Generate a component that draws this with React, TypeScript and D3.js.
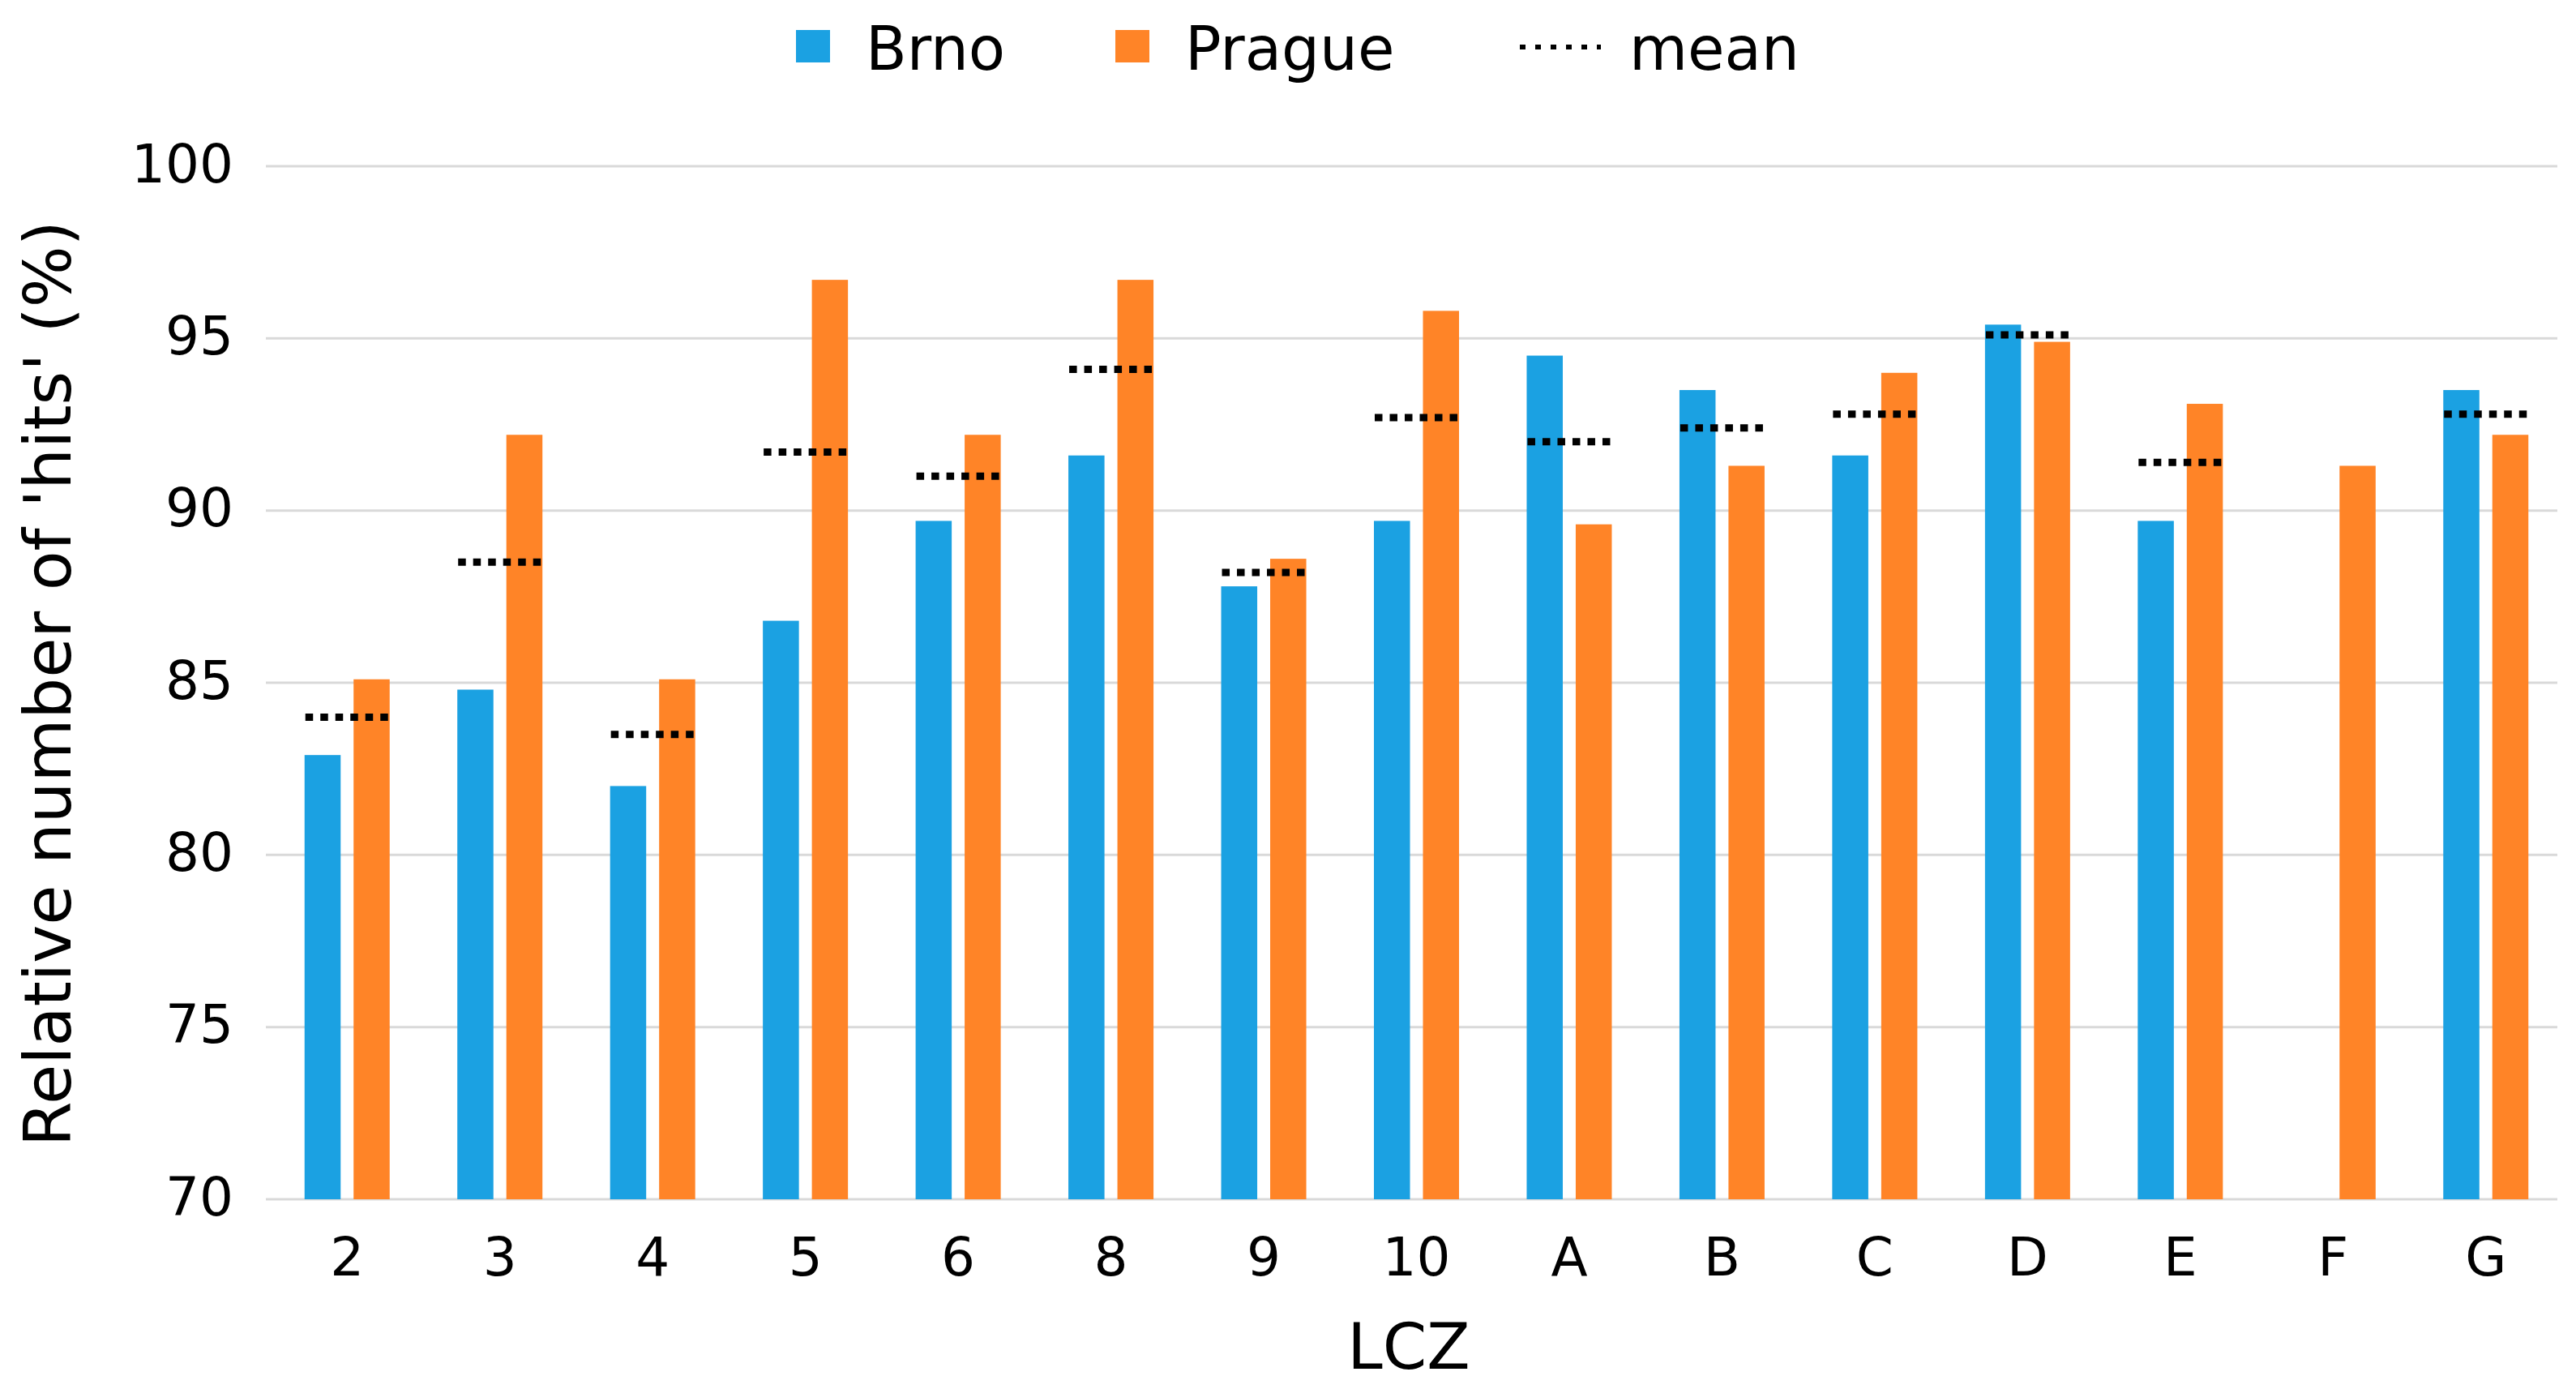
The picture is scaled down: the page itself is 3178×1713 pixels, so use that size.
/**
 * LCZ hits bar chart (Brno / Prague + mean)
 */

import React, { useEffect, useRef } from 'react'
import * as d3 from 'd3'

const categories = ['2', '3', '4', '5', '6', '8', '9', '10', 'A', 'B', 'C', 'D', 'E', 'F', 'G']
const brno: Array<number | null> = [82.9, 84.8, 82.0, 86.8, 89.7, 91.6, 87.8, 89.7, 94.5, 93.5, 91.6, 95.4, 89.7, null, 93.5]
const prague: Array<number | null> = [85.1, 92.2, 85.1, 96.7, 92.2, 96.7, 88.6, 95.8, 89.6, 91.3, 94.0, 94.9, 93.1, 91.3, 92.2]
const mean: Array<number | null> = [84.0, 88.5, 83.5, 91.7, 91.0, 94.1, 88.2, 92.7, 92.0, 92.4, 92.8, 95.1, 91.4, null, 92.8]
const yTicks = [70, 75, 80, 85, 90, 95, 100]
const seriesNames = ['Brno', 'Prague']

function App() {
  const width = 3178
  const height = 1713
  const refSvg = useRef(null)

  const draw = () => {
    const font = "'DejaVu Sans', Verdana, sans-serif"
    const colors: Record<string, string> = { Brno: '#1ba1e2', Prague: '#ff8427' }
    const svg = d3.select(refSvg.current)
    svg.selectAll('*').remove()

    const x = d3.scaleBand<string>().domain(categories).range([334, 3161])
    const y = d3.scaleLinear().domain([70, 100]).range([1479, 205])
    const groupW = 105
    const sub = d3.scaleBand<string>().domain(seriesNames).range([-groupW / 2, groupW / 2]).paddingInner(0.264)

    // gridlines
    svg.append('g')
      .selectAll('line')
      .data(yTicks)
      .join('line')
      .attr('x1', 328)
      .attr('x2', 3155)
      .attr('y1', (d) => y(d))
      .attr('y2', (d) => y(d))
      .attr('stroke', '#d9d9d9')
      .attr('stroke-width', 3)

    // y tick labels
    svg.append('g')
      .selectAll('text')
      .data(yTicks)
      .join('text')
      .attr('x', 288)
      .attr('y', (d) => y(d))
      .attr('dy', '0.3em')
      .attr('text-anchor', 'end')
      .attr('font-family', font)
      .attr('font-size', 66)
      .attr('fill', '#000')
      .text((d) => d)

    // bars
    const rows = categories.map((c, i) => ({ c, Brno: brno[i], Prague: prague[i], mean: mean[i] }))
    seriesNames.forEach((s) => {
      svg.append('g')
        .selectAll('rect')
        .data(rows.filter((r: any) => r[s] != null))
        .join('rect')
        .attr('x', (d: any) => (x(d.c) as number) + x.bandwidth() / 2 + (sub(s) as number))
        .attr('width', sub.bandwidth())
        .attr('y', (d: any) => y(d[s]))
        .attr('height', (d: any) => y(70) - y(d[s]))
        .attr('fill', colors[s])
    })

    // mean lines
    svg.append('g')
      .selectAll('line')
      .data(rows.filter((r) => r.mean != null))
      .join('line')
      .attr('x1', (d) => (x(d.c) as number) + x.bandwidth() / 2 - groupW / 2 + 1)
      .attr('x2', (d) => (x(d.c) as number) + x.bandwidth() / 2 + groupW / 2)
      .attr('y1', (d) => y(d.mean as number))
      .attr('y2', (d) => y(d.mean as number))
      .attr('stroke', '#000')
      .attr('stroke-width', 9)
      .attr('stroke-dasharray', '9.5 9')

    // x tick labels
    svg.append('g')
      .selectAll('text')
      .data(categories)
      .join('text')
      .attr('x', (d) => (x(d) as number) + x.bandwidth() / 2)
      .attr('y', 1573)
      .attr('text-anchor', 'middle')
      .attr('font-family', font)
      .attr('font-size', 66)
      .attr('fill', '#000')
      .text((d) => d)

    // axis titles
    svg.append('text')
      .attr('x', 1738)
      .attr('y', 1688)
      .attr('text-anchor', 'middle')
      .attr('font-family', font)
      .attr('font-size', 78)
      .text('LCZ')

    svg.append('text')
      .attr('transform', 'translate(87,843) rotate(-90)')
      .attr('text-anchor', 'middle')
      .attr('font-family', font)
      .attr('font-size', 80)
      .text("Relative number of 'hits' (%)")

    // legend
    const legend = svg.append('g').attr('font-family', font).attr('font-size', 74)
    legend.append('rect').attr('x', 982).attr('y', 37).attr('width', 42).attr('height', 40).attr('fill', colors.Brno)
    legend.append('text').attr('x', 1068).attr('y', 86).text('Brno')
    legend.append('rect').attr('x', 1376).attr('y', 37).attr('width', 42).attr('height', 40).attr('fill', colors.Prague)
    legend.append('text').attr('x', 1462).attr('y', 86).text('Prague')
    legend.append('line')
      .attr('x1', 1875).attr('x2', 1975).attr('y1', 58).attr('y2', 58)
      .attr('stroke', '#000').attr('stroke-width', 6).attr('stroke-dasharray', '7 12')
    legend.append('text').attr('x', 2010).attr('y', 86).text('mean')
  }

  useEffect(() => {
    if (refSvg) {
      draw()
    }
  })

  return (
    <svg
      ref={refSvg}
      width={width}
      height={height}
      style={{ position: 'absolute', left: 0, top: 0, background: '#fff' }}
    />
  )
}

export default App
